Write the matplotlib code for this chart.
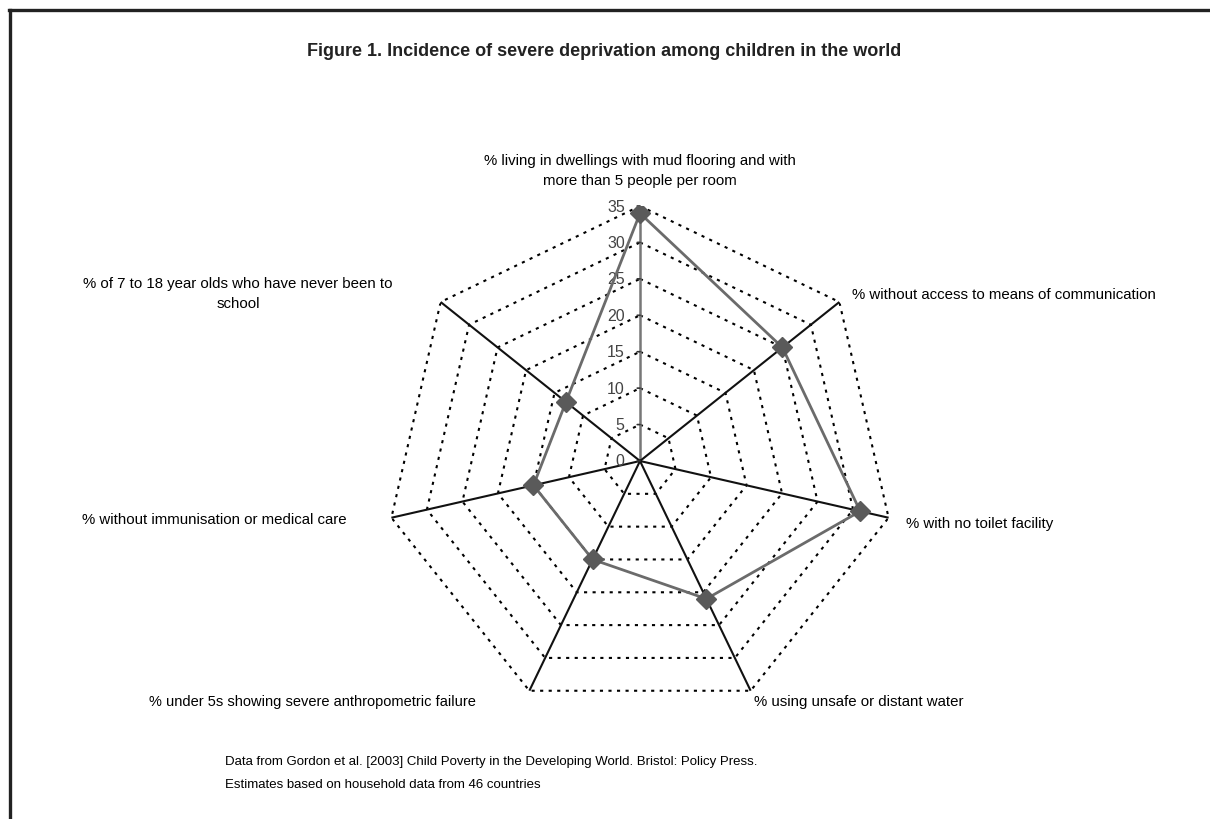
import numpy as np
import matplotlib.pyplot as plt
from matplotlib.lines import Line2D

plt.rcParams['font.family'] = ['Liberation Sans', 'DejaVu Sans']

# categories clockwise from the top
categories = ["shelter", "information", "sanitation", "water", "food", "health", "education"]
values = [34, 25, 31, 21, 15, 15, 13]
levels = [0, 5, 10, 15, 20, 25, 30, 35]

title = "Figure 1. Incidence of severe deprivation among children in the world"
source_lines = ["Data from Gordon et al. [2003] Child Poverty in the Developing World. Bristol: Policy Press.",
                "Estimates based on household data from 46 countries"]

W, H = 1210, 820
fig = plt.figure(figsize=(W / 100, H / 100), dpi=100)

# frame (only top and left visible)
fig.add_artist(Line2D([9 / W, 1], [1 - 11 / H, 1 - 11 / H], color='#222222', lw=2.4))
fig.add_artist(Line2D([10 / W, 10 / W], [0, 1 - 11 / H], color='#222222', lw=2.4))

cx, cy, R = 640, 462, 255
ax = fig.add_axes([(cx - R) / W, (H - cy - R) / H, 2 * R / W, 2 * R / H], projection='polar')
ax.set_theta_zero_location('N')
ax.set_theta_direction(-1)
ax.set_ylim(0, 35)
ax.set_xticks([])
ax.set_yticks([])
ax.grid(False)
ax.spines['polar'].set_visible(False)
ax.patch.set_alpha(0)

n = len(categories)
theta = np.arange(n) * 2 * np.pi / n
theta_closed = np.append(theta, theta[0])

# dotted polygon grid
for lv in levels[1:]:
    ax.plot(theta_closed, [lv] * (n + 1), color='black', lw=1.5,
            linestyle=(0, (1.5, 2.6)), zorder=1)

# spokes
for i, t in enumerate(theta):
    col = '#777777' if i == 0 else '#111111'
    ax.plot([t, t], [0, 35], color=col, lw=1.8 if i == 0 else 1.5, zorder=2)

# tick labels on the top axis
for lv in levels:
    ax.annotate(str(lv), (0, lv), xytext=(-11, 0), textcoords='offset points',
                ha='right', va='center', fontsize=11.5, color='#444444')
    ax.annotate('', (0, lv), xytext=(-4, 0), textcoords='offset points',
                arrowprops=dict(arrowstyle='-', color='#333333', lw=1.2))

# data series
vals_closed = values + values[:1]
ax.plot(theta_closed, vals_closed, color='#6b6b6b', lw=2, zorder=3)
ax.plot(theta, values, linestyle='none', marker='D', markersize=10,
        color='#5a5a5a', zorder=4)

# axis labels
fs = 10.8
fig.text(640 / W, 1 - 171 / H,
         "% living in dwellings with mud flooring and with\nmore than 5 people per room",
         ha='center', va='center', fontsize=fs, linespacing=1.6)
fig.text(852 / W, 1 - 295 / H, "% without access to means of communication",
         ha='left', va='center', fontsize=fs)
fig.text(906 / W, 1 - 524 / H, "% with no toilet facility",
         ha='left', va='center', fontsize=fs)
fig.text(754 / W, 1 - 702 / H, "% using unsafe or distant water",
         ha='left', va='center', fontsize=fs)
fig.text(476 / W, 1 - 702 / H, "% under 5s showing severe anthropometric failure",
         ha='right', va='center', fontsize=10.5)
fig.text(347 / W, 1 - 520 / H, "% without immunisation or medical care",
         ha='right', va='center', fontsize=fs)
fig.text(238 / W, 1 - 294 / H, "% of 7 to 18 year olds who have never been to\nschool",
         ha='center', va='center', fontsize=fs, linespacing=1.6)

fig.text(604 / W, 1 - 52 / H, title, ha='center', va='center',
         fontsize=13, fontweight='bold', color='#222222')
fig.text(225 / W, 1 - 762 / H, source_lines[0], ha='left', va='center', fontsize=9.5)
fig.text(225 / W, 1 - 785 / H, source_lines[1], ha='left', va='center', fontsize=9.5)

fig.savefig('out.png', dpi=100, facecolor='white')
